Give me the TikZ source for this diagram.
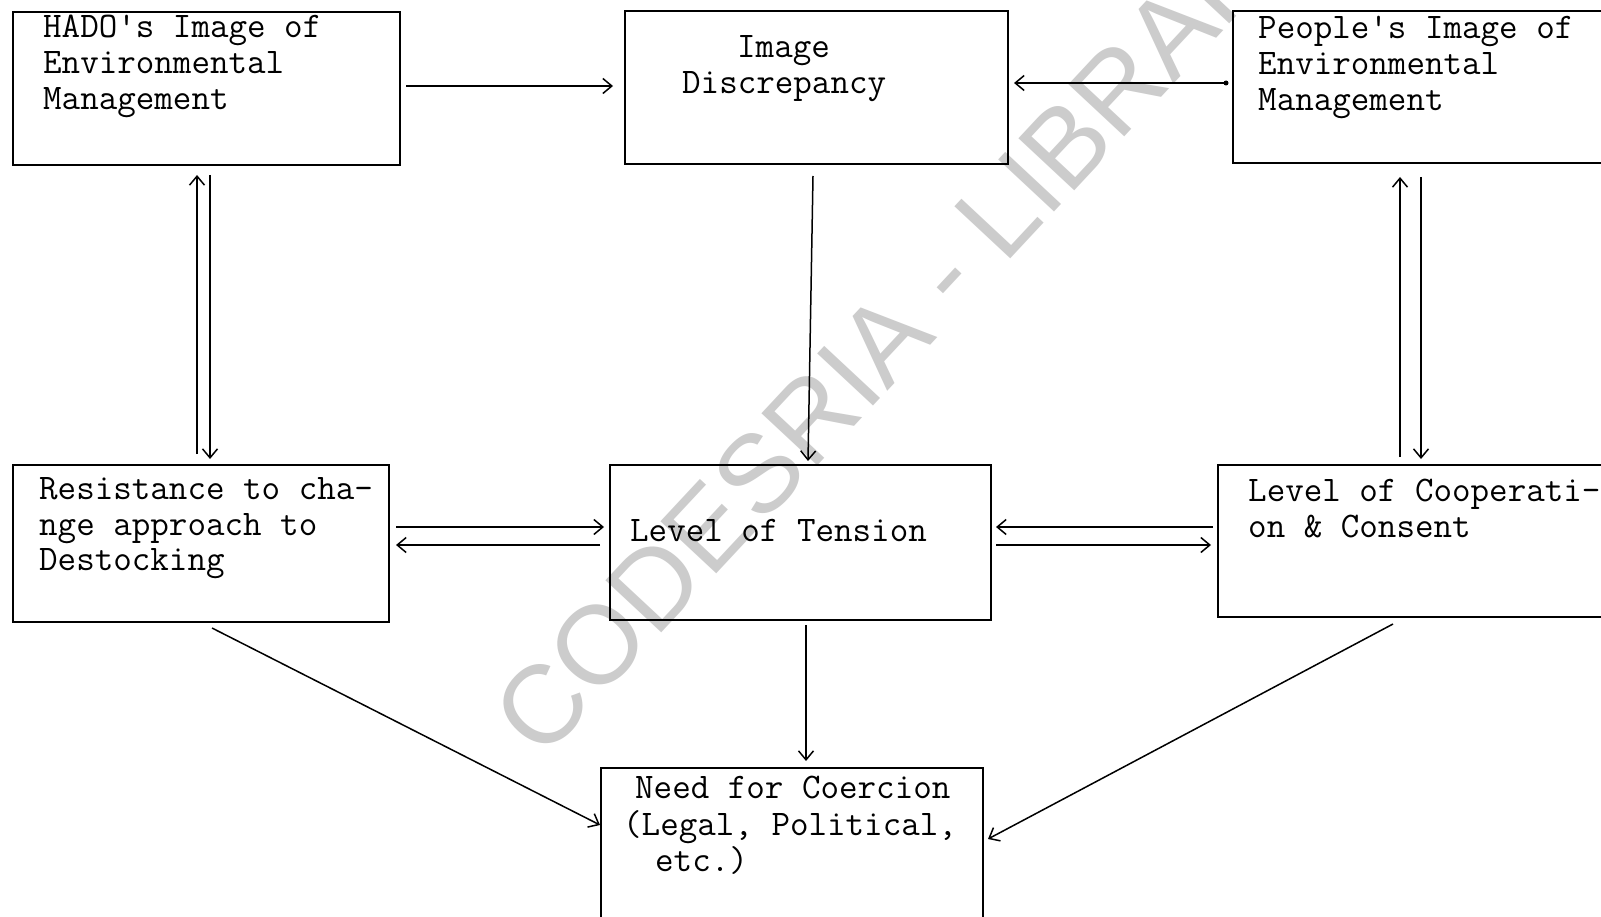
\documentclass[tikz,border=0pt]{standalone}
\usepackage{fontspec}
\newfontfamily\wmfont{Liberation Sans}
\usetikzlibrary{arrows.meta,calc}
\begin{document}
\begin{tikzpicture}[x=1pt,y=-1pt,
  box/.style={draw, line width=1.8pt, inner sep=0pt, outer sep=0pt},
  txt/.style={font=\fontsize{36}{37.5}\selectfont\ttfamily, inner sep=0pt, anchor=base west},
  arr/.style={line width=1.5pt, -{Straight Barb[length=9pt,width=15pt]}},
  wm/.style={font=\fontsize{111}{111}\selectfont\wmfont, text=black!20, inner sep=0pt}]
\useasboundingbox (0,0) rectangle (1601,917);
\clip (0,0) rectangle (1601,917);
\fill[white] (0,0) rectangle (1601,917);
% watermark
\node[wm, rotate=47] (wm) at (907,314) {CODESRIA - LIBRARY};
% boxes
\node[box, minimum width=387pt, minimum height=153pt] (hado) at (206.5,88.5) {};
\node[box, minimum width=383pt, minimum height=153pt] (disc) at (816.5,87.5) {};
\node[box, minimum width=407pt, minimum height=152pt] (people) at (1436.5,87) {};
\node[box, minimum width=376pt, minimum height=157pt] (resist) at (201,543.5) {};
\node[box, minimum width=381pt, minimum height=155pt] (tension) at (800.5,542.5) {};
\node[box, minimum width=422pt, minimum height=152pt] (coop) at (1429,541) {};
\node[box, minimum width=382pt, minimum height=192pt] (coerce) at (792,864) {};
% texts
\node[txt] (h1) at (43,38) {HADO's Image of};
\node[txt] (h2) at (43,74) {Environmental};
\node[txt] (h3) at (43,110) {Management};
\node[txt] (d1) at (737,58) {Image};
\node[txt] (d2) at (682,94) {Discrepancy};
\node[txt] (p1) at (1258,39) {People's Image of};
\node[txt] (p2) at (1258,75) {Environmental};
\node[txt] (p3) at (1258,111) {Management};
\node[txt] (r1) at (39,499) {Resistance to cha-};
\node[txt] (r2) at (39,535) {nge approach to};
\node[txt] (r3) at (39,570) {Destocking};
\node[txt] (t1) at (630,541) {Level of Tension};
\node[txt] (c1) at (1248,501) {Level of Cooperati-};
\node[txt] (c2) at (1248,537) {on \& Consent};
\node[txt] (n1) at (635,798) {Need for Coercion};
\node[txt] (n2) at (623,835) {(Legal, Political,};
\node[txt] (n3) at (655,871) {etc.)};
% connectors
\draw[arr] ($(hado.east)+(6,-2.5)$) -- ($(disc.west)+(-12,-1.5)$);
\draw[arr] ($(people.west)+(-7,-4)$) -- ($(disc.east)+(6,-4.5)$);
\fill ($(people.west)+(-7,-4)$) circle (2.5pt);
\draw[arr] ($(disc.south)+(-3.5,12)$) -- ($(tension.north)+(7.5,-4)$);
\draw[arr] ($(resist.north)+(-4,-11)$) -- ($(hado.south)+(-9.5,10)$);
\draw[arr] ($(hado.south)+(3.5,10)$) -- ($(resist.north)+(9,-6)$);
\draw[arr] ($(coop.north)+(-29,-8)$) -- ($(people.south)+(-36.5,14)$);
\draw[arr] ($(people.south)+(-15.5,14)$) -- ($(coop.north)+(-8,-6)$);
\draw[arr] ($(resist.east)+(7,-16.5)$) -- ($(tension.west)+(-6,-15.5)$);
\draw[arr] ($(tension.west)+(-10,2.5)$) -- ($(resist.east)+(7,1.5)$);
\draw[arr] ($(coop.west)+(-5,-14)$) -- ($(tension.east)+(5,-15.5)$);
\draw[arr] ($(tension.east)+(5,2.5)$) -- ($(coop.west)+(-7,4)$);
\draw[arr] ($(tension.south)+(5.5,5)$) -- ($(coerce.north)+(14,-7)$);
\draw[arr] ($(resist.south)+(11,6)$) -- ($(coerce.west)+(-1,-39)$);
\draw[arr] ($(coop.south)+(-36,7)$) -- ($(coerce.east)+(5,-25)$);
\end{tikzpicture}
\end{document}
